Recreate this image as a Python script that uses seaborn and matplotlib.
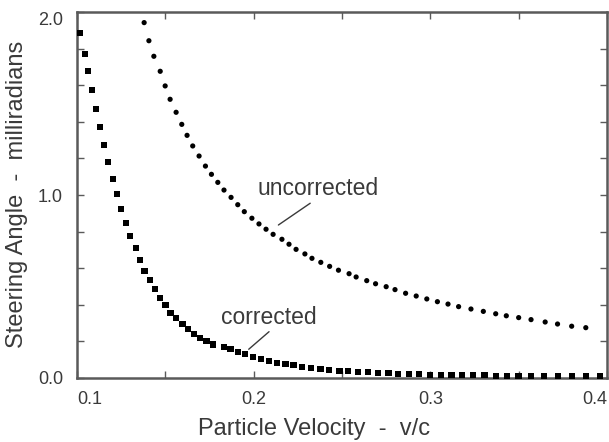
import matplotlib
matplotlib.use("Agg")
import matplotlib.pyplot as plt
import seaborn as sns
import pandas as pd

# ---- data ----
uncorrected_v = [0.138, 0.1407, 0.1435, 0.1471, 0.1499, 0.1527, 0.1561, 0.1593, 0.1623, 0.1655,
                 0.1691, 0.1727, 0.1761, 0.1797, 0.1832, 0.1872, 0.1910, 0.1947,
                 0.199, 0.203, 0.207, 0.211, 0.216, 0.220, 0.224, 0.229, 0.233, 0.238,
                 0.243, 0.248, 0.254, 0.258, 0.264, 0.269, 0.275, 0.280, 0.286, 0.292,
                 0.298, 0.304, 0.310, 0.316, 0.323, 0.330, 0.337, 0.343, 0.350, 0.357,
                 0.365, 0.372, 0.380, 0.388]
uncorrected_angle = [1.942, 1.843, 1.758, 1.676, 1.596, 1.523, 1.452, 1.386, 1.326, 1.268,
                     1.213, 1.158, 1.113, 1.069, 1.027, 0.987, 0.947, 0.909,
                     0.873, 0.842, 0.813, 0.785, 0.758, 0.731, 0.703, 0.678, 0.654, 0.632,
                     0.610, 0.589, 0.570, 0.552, 0.532, 0.515, 0.499, 0.483, 0.463, 0.448,
                     0.432, 0.417, 0.404, 0.390, 0.377, 0.364, 0.351, 0.340, 0.330, 0.319,
                     0.306, 0.295, 0.283, 0.275]

corrected_v = [0.1017, 0.1044, 0.1064, 0.1085, 0.1107, 0.1130, 0.1154, 0.1177, 0.1202, 0.1228,
               0.1249, 0.1277, 0.1299, 0.1332, 0.1356, 0.1382, 0.1411, 0.1441, 0.1469, 0.1501,
               0.1529, 0.1559, 0.1597, 0.1629, 0.1663, 0.1695, 0.1733, 0.1770, 0.1830, 0.1869,
               0.1913, 0.1953, 0.1996, 0.2040, 0.2087, 0.2131, 0.2180, 0.2225, 0.2275, 0.2324,
               0.2378, 0.2427, 0.2486, 0.2536, 0.2592, 0.2645, 0.2704, 0.2763, 0.2819, 0.2878,
               0.2937, 0.2997, 0.3060, 0.3120, 0.3179, 0.3242, 0.3307, 0.3373, 0.3436, 0.3499,
               0.3571, 0.3644, 0.3723, 0.3802, 0.3881, 0.3960]
corrected_angle = [1.884, 1.770, 1.676, 1.574, 1.472, 1.372, 1.275, 1.182, 1.087, 1.005,
                   0.925, 0.849, 0.776, 0.709, 0.645, 0.586, 0.534, 0.486, 0.439, 0.397,
                   0.357, 0.326, 0.297, 0.268, 0.242, 0.220, 0.201, 0.183, 0.171, 0.157,
                   0.144, 0.131, 0.116, 0.105, 0.095, 0.084, 0.075, 0.069, 0.062, 0.055,
                   0.049, 0.045, 0.040, 0.037, 0.033, 0.031, 0.027, 0.026, 0.023, 0.022,
                   0.020, 0.018, 0.016, 0.016, 0.015, 0.015, 0.015, 0.013, 0.013, 0.013,
                   0.013, 0.013, 0.013, 0.013, 0.013, 0.013]

x_ticks = [0.1, 0.2, 0.3, 0.4]
x_tick_labels = ["0.1", "0.2", "0.3", "0.4"]
y_ticks = [0.0, 1.0, 2.0]
y_tick_labels = ["0.0", "1.0", "2.0"]

labels = {"uncorrected": (0.2367, 1.038), "corrected": (0.2085, 0.328)}
leaders = {"uncorrected": ((0.232, 0.955), (0.214, 0.836)),
           "corrected": ((0.2087, 0.253), (0.1972, 0.157))}

# ---- plotting ----
sns.set_theme(style="ticks")
plt.rcParams["font.family"] = ["Liberation Sans", "DejaVu Sans"]

TXT = "#3a3a3a"
SPINE = "#5a5a5a"

fig = plt.figure(figsize=(6.09, 4.42), dpi=100)
ax = fig.add_axes([77 / 609, 1 - 378 / 442, 530 / 609, 366 / 442])

df_u = pd.DataFrame({"v": uncorrected_v, "angle": uncorrected_angle})
df_c = pd.DataFrame({"v": corrected_v, "angle": corrected_angle})

sns.scatterplot(data=df_u, x="v", y="angle", ax=ax, marker="o", s=14,
                color="black", edgecolor="none", linewidth=0, clip_on=False, zorder=3)
sns.scatterplot(data=df_c, x="v", y="angle", ax=ax, marker="s", s=20,
                color="black", edgecolor="none", linewidth=0, clip_on=False, zorder=3)

ax.set_xlim(0.1, 0.4)
ax.set_ylim(0.0, 2.0)

ax.set_xticks(x_ticks)
ax.set_xticklabels(x_tick_labels)
ax.set_xticks([0.15, 0.25, 0.35], minor=True)
ax.set_yticks(y_ticks)
ax.set_yticklabels(y_tick_labels)
ax.set_yticks([0.2, 0.4, 0.6, 0.8, 1.2, 1.4, 1.6, 1.8], minor=True)

ax.tick_params(axis="both", which="both", direction="in", top=True, right=True,
               color=SPINE, width=1.0, labelcolor=TXT, labelsize=13)
ax.tick_params(axis="both", which="major", length=5)
ax.tick_params(axis="both", which="minor", length=5)
ax.tick_params(axis="x", which="major", pad=9)
ax.tick_params(axis="y", which="major", pad=10)

xl = ax.get_xticklabels()
xl[0].set_horizontalalignment("left")
xl[-1].set_horizontalalignment("right")
yl = ax.get_yticklabels()
yl[-1].set_verticalalignment("top")

for side in ["left", "right", "top", "bottom"]:
    ax.spines[side].set_visible(True)
    ax.spines[side].set_color(SPINE)
    ax.spines[side].set_linewidth(1.8)

ax.set_xlabel("Particle Velocity  -  v/c", fontsize=17, color=TXT)
ax.set_ylabel("Steering Angle  -  milliradians", fontsize=17, color=TXT)
ax.xaxis.set_label_coords(0.447, -0.108)
ax.yaxis.set_label_coords(-0.092, 0.503)

for name, (tx, ty) in labels.items():
    ax.text(tx, ty, name, ha="center", va="center", fontsize=16.5, color=TXT)
for name, ((x0, y0), (x1, y1)) in leaders.items():
    ax.plot([x0, x1], [y0, y1], color=TXT, linewidth=1.0)

fig.savefig("out.png", dpi=100)
